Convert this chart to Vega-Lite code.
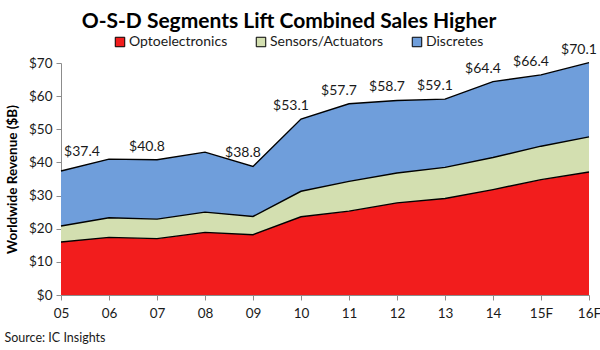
{
  "$schema": "https://vega.github.io/schema/vega-lite/v6.json",
  "width": 528,
  "height": 232,
  "autosize": "none",
  "padding": {"left": 61, "top": 63, "right": 11, "bottom": 55},
  "background": "white",
  "title": {
    "text": "O-S-D Segments Lift Combined Sales Higher",
    "font": "Lato",
    "fontSize": 21,
    "fontWeight": "bold",
    "color": "#000000",
    "anchor": "middle",
    "frame": "group",
    "dx": -36,
    "offset": 3
  },
  "config": {
    "view": {"stroke": null},
    "axis": {
      "labelFont": "Lato",
      "labelFontSize": 13.5,
      "labelColor": "#1a1a1a",
      "domainColor": "#8c8c8c",
      "tickColor": "#8c8c8c",
      "tickSize": 5,
      "grid": false
    },
    "legend": {"labelFont": "Lato"}
  },
  "datasets": {
    "segments": [
      {"year": "05", "segment": "Optoelectronics", "value": 16.0},
      {"year": "05", "segment": "Sensors/Actuators", "value": 4.8},
      {"year": "05", "segment": "Discretes", "value": 16.6},
      {"year": "06", "segment": "Optoelectronics", "value": 17.4},
      {"year": "06", "segment": "Sensors/Actuators", "value": 5.9},
      {"year": "06", "segment": "Discretes", "value": 17.7},
      {"year": "07", "segment": "Optoelectronics", "value": 17.0},
      {"year": "07", "segment": "Sensors/Actuators", "value": 5.9},
      {"year": "07", "segment": "Discretes", "value": 17.9},
      {"year": "08", "segment": "Optoelectronics", "value": 18.9},
      {"year": "08", "segment": "Sensors/Actuators", "value": 6.1},
      {"year": "08", "segment": "Discretes", "value": 18.1},
      {"year": "09", "segment": "Optoelectronics", "value": 18.2},
      {"year": "09", "segment": "Sensors/Actuators", "value": 5.5},
      {"year": "09", "segment": "Discretes", "value": 15.1},
      {"year": "10", "segment": "Optoelectronics", "value": 23.6},
      {"year": "10", "segment": "Sensors/Actuators", "value": 7.7},
      {"year": "10", "segment": "Discretes", "value": 21.8},
      {"year": "11", "segment": "Optoelectronics", "value": 25.3},
      {"year": "11", "segment": "Sensors/Actuators", "value": 9.0},
      {"year": "11", "segment": "Discretes", "value": 23.4},
      {"year": "12", "segment": "Optoelectronics", "value": 27.8},
      {"year": "12", "segment": "Sensors/Actuators", "value": 9.0},
      {"year": "12", "segment": "Discretes", "value": 21.9},
      {"year": "13", "segment": "Optoelectronics", "value": 29.1},
      {"year": "13", "segment": "Sensors/Actuators", "value": 9.4},
      {"year": "13", "segment": "Discretes", "value": 20.6},
      {"year": "14", "segment": "Optoelectronics", "value": 31.8},
      {"year": "14", "segment": "Sensors/Actuators", "value": 9.7},
      {"year": "14", "segment": "Discretes", "value": 22.9},
      {"year": "15F", "segment": "Optoelectronics", "value": 34.8},
      {"year": "15F", "segment": "Sensors/Actuators", "value": 10.1},
      {"year": "15F", "segment": "Discretes", "value": 21.5},
      {"year": "16F", "segment": "Optoelectronics", "value": 37.1},
      {"year": "16F", "segment": "Sensors/Actuators", "value": 10.6},
      {"year": "16F", "segment": "Discretes", "value": 22.4}
    ],
    "totals": [
      {"year": "05", "top": 37.4},
      {"year": "07", "top": 40.8},
      {"year": "09", "top": 38.8},
      {"year": "10", "top": 53.1},
      {"year": "11", "top": 57.7},
      {"year": "12", "top": 58.7},
      {"year": "13", "top": 59.1},
      {"year": "14", "top": 64.4},
      {"year": "15F", "top": 66.4},
      {"year": "16F", "top": 70.1}
    ]
  },
  "encoding": {
    "x": {
      "field": "year", "type": "ordinal",
      "sort": ["05","06","07","08","09","10","11","12","13","14","15F","16F"],
      "scale": {"type": "point", "padding": 0},
      "axis": {
        "labelAngle": 0,
        "labelPadding": 6,
        "title": "Source: IC Insights",
        "titleFont": "Lato",
        "titleFontSize": 12.5,
        "titleFontWeight": "normal",
        "titleColor": "#1a1a1a",
        "titleAlign": "left",
        "titleAnchor": "start",
        "titleBaseline": "middle",
        "titleX": -57,
        "titleY": 42
      }
    },
    "y": {
      "field": "top", "type": "quantitative",
      "scale": {"domain": [0, 70], "nice": false},
      "axis": {
        "values": [0,10,20,30,40,50,60,70],
        "labelExpr": "'$' + datum.value",
        "labelPadding": 4,
        "labelOverlap": false,
        "title": "Worldwide Revenue ($B)",
        "titleFont": "Lato",
        "titleFontSize": 13.5,
        "titleFontWeight": "bold",
        "titleColor": "#000000",
        "titlePadding": 9
      }
    }
  },
  "layer": [
    {
      "data": {"name": "segments"},
      "transform": [
        {"calculate": "indexof(['Optoelectronics','Sensors/Actuators','Discretes'], datum.segment)", "as": "rank"},
        {"window": [{"op": "sum", "field": "value", "as": "top"}], "groupby": ["year"], "sort": [{"field": "rank"}], "frame": [null, 0]},
        {"calculate": "datum.top - datum.value", "as": "bottom"}
      ],
      "layer": [
        {
          "mark": {"type": "area", "opacity": 1},
          "encoding": {
            "y2": {"field": "bottom"},
            "color": {
              "field": "segment", "type": "nominal",
              "scale": {
                "domain": ["Optoelectronics", "Sensors/Actuators", "Discretes"],
                "range": ["#F21D1D", "#D3DFB0", "#6F9EDB"]
              },
              "legend": {
                "title": null,
                "orient": "none",
                "direction": "horizontal",
                "legendX": 52,
                "legendY": -28,
                "symbolType": "square",
                "symbolSize": 90,
                "symbolStrokeColor": "#000000",
                "symbolStrokeWidth": 1,
                "symbolOpacity": 1,
                "labelFontSize": 14,
                "labelColor": "#1a1a1a",
                "labelOffset": 2,
                "columnPadding": 26
              }
            }
          }
        },
        {
          "mark": {"type": "line", "color": "#000000", "strokeWidth": 1.4},
          "encoding": {
            "detail": {"field": "segment"}
          }
        }
      ]
    },
    {
      "data": {"name": "totals"},
      "transform": [{"filter": "datum.year != '05'"}],
      "mark": {"type": "text", "font": "Lato", "fontSize": 14, "color": "#1a1a1a", "dx": -10, "dy": -13, "baseline": "middle"},
      "encoding": {
        "text": {"field": "top", "type": "quantitative", "format": "$.1f"}
      }
    },
    {
      "data": {"name": "totals"},
      "transform": [{"filter": "datum.year == '05'"}],
      "mark": {"type": "text", "font": "Lato", "fontSize": 14, "color": "#1a1a1a", "dx": 21, "dy": -19, "baseline": "middle"},
      "encoding": {
        "text": {"field": "top", "type": "quantitative", "format": "$.1f"}
      }
    }
  ]
}
